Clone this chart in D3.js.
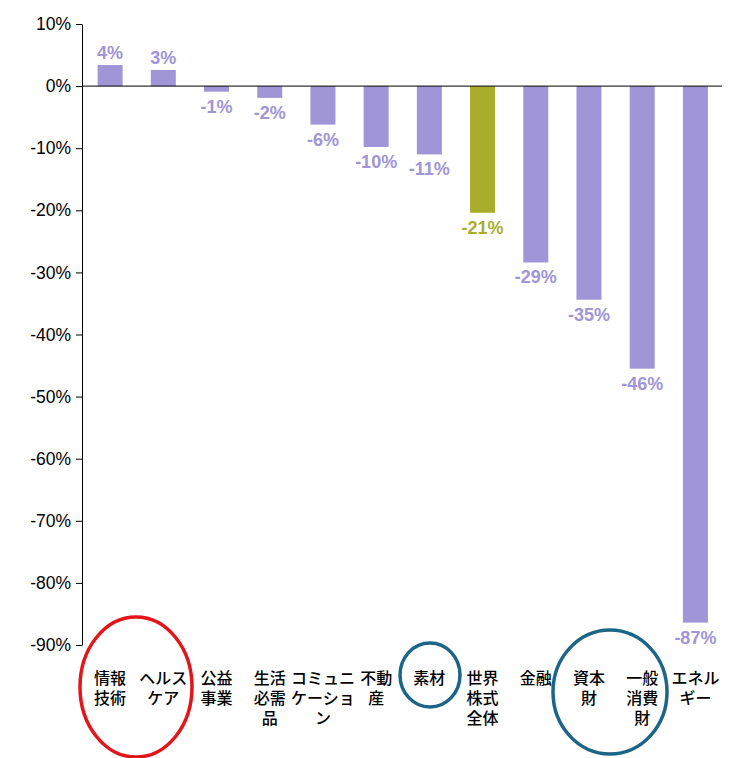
<!DOCTYPE html>
<html><head><meta charset="utf-8">
<script src="https://cdn.jsdelivr.net/npm/d3@7"></script>
<style>body{margin:0;background:#fff}</style></head>
<body><svg id="c" width="735" height="758"></svg>
<script>
const categories = [["情報","技術"],["ヘルス","ケア"],["公益","事業"],["生活","必需","品"],["コミュニ","ケーショ","ン"],["不動","産"],["素材"],["世界","株式","全体"],["金融"],["資本","財"],["一般","消費","財"],["エネル","ギー"]];
const values = [3.4, 2.6, -0.9, -1.9, -6.2, -9.8, -11, -20.4, -28.4, -34.4, -45.5, -86.4];
const valueLabels = ["4%","3%","-1%","-2%","-6%","-10%","-11%","-21%","-29%","-35%","-46%","-87%"];
const highlight = 7;
const yTicks = [10,0,-10,-20,-30,-40,-50,-60,-70,-80,-90];

const svg = d3.select("#c");
const font = "'Liberation Sans', Arial, sans-serif";
const cjk = "'Noto Sans CJK JP', sans-serif";
const y = d3.scaleLinear().domain([10,-90]).range([24,645]);
const x = d3.scaleBand().domain(d3.range(categories.length)).range([83.5,722]).paddingInner(0.53).paddingOuter(0.265);
const purple = "#a095d6", olive = "#a8ae2c";

const ax = svg.append("g").attr("transform","translate(82,0)")
  .call(d3.axisLeft(y).tickValues(yTicks).tickFormat(d=>d+"%").tickSize(6).tickSizeOuter(0));
ax.selectAll("text").attr("font-family",font).attr("font-size",17.5).attr("fill","#000").attr("dx","-2");
ax.selectAll("line,path").attr("stroke","#000");

svg.selectAll("rect.b").data(values).join("rect")
  .attr("x",(d,i)=>x(i)).attr("width",x.bandwidth())
  .attr("y",d=>y(Math.max(0,d))).attr("height",d=>Math.abs(y(d)-y(0)))
  .attr("fill",(d,i)=>i===highlight?olive:purple);

svg.append("line").attr("x1",82).attr("x2",722).attr("y1",y(0)).attr("y2",y(0)).attr("stroke","#000");

svg.selectAll("text.v").data(values).join("text")
  .attr("x",(d,i)=>x(i)+x.bandwidth()/2)
  .attr("y",d=>d>=0?y(d)-6:y(d)+21)
  .attr("text-anchor","middle").attr("font-family",font).attr("font-weight","bold").attr("font-size",18)
  .attr("fill",(d,i)=>i===highlight?olive:purple).text((d,i)=>valueLabels[i]);

categories.forEach((c,i)=>{
  const t = svg.append("text").attr("text-anchor","middle").attr("font-family",cjk).attr("font-weight",500).attr("font-size",16).attr("fill","#000");
  c.forEach((line,j)=>t.append("tspan").attr("x",x(i)+x.bandwidth()/2).attr("y",684+j*20).text(line));
});

const ell = [[136,687,56,70,"#e3151b"],[430,675,30,32,"#1d6587"],[610,692,57,62,"#1d6587"]];
svg.selectAll("ellipse").data(ell).join("ellipse")
  .attr("cx",d=>d[0]).attr("cy",d=>d[1]).attr("rx",d=>d[2]).attr("ry",d=>d[3])
  .attr("fill","none").attr("stroke",d=>d[4]).attr("stroke-width",3.5);
</script></body></html>
